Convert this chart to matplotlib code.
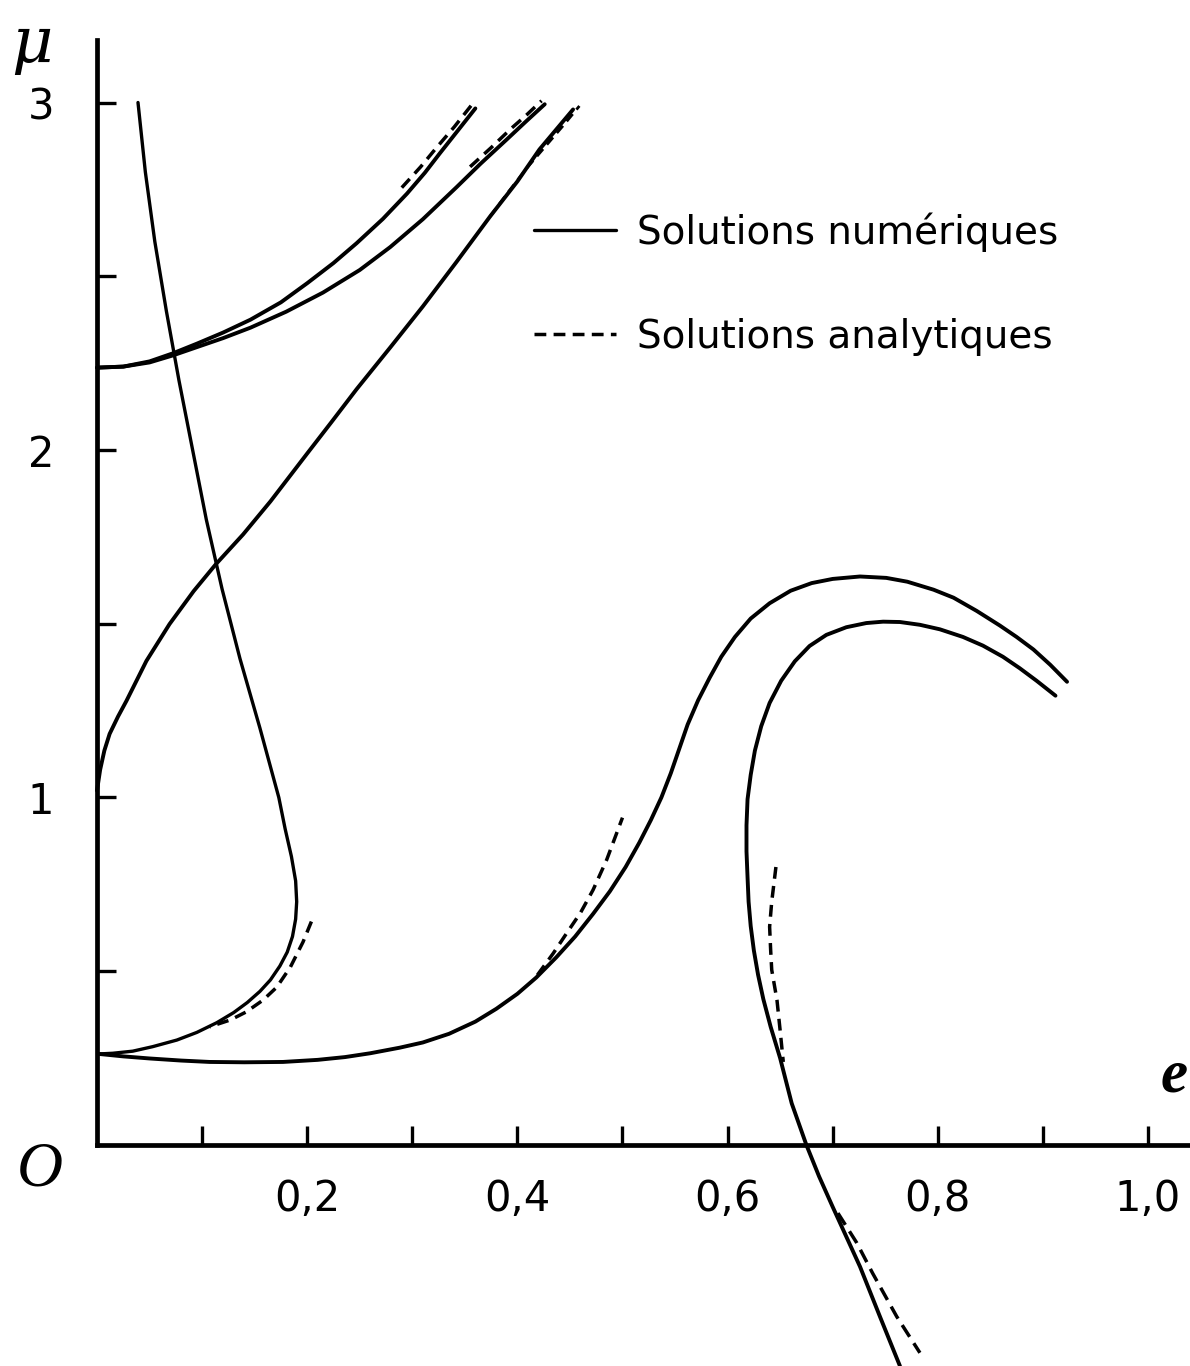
import numpy as np
import matplotlib
matplotlib.use("Agg")
import matplotlib.pyplot as plt

# ******* values, (e, mu) pairs
# steep curve from mu=3, nose near e=0.19, back to the axis at mu~0.26
a_e = [0.039, 0.046, 0.055, 0.066, 0.078, 0.091, 0.104, 0.119, 0.136, 0.155, 0.164,
       0.173, 0.179, 0.185, 0.189, 0.190, 0.189, 0.186, 0.181, 0.174, 0.165, 0.155,
       0.143, 0.130, 0.114, 0.095, 0.076, 0.053, 0.034, 0.015, 0.002]
a_mu = [3.00, 2.80, 2.60, 2.40, 2.20, 2.00, 1.80, 1.60, 1.40, 1.20, 1.10,
        1.00, 0.91, 0.83, 0.76, 0.70, 0.65, 0.60, 0.555, 0.515, 0.475, 0.442,
        0.410, 0.381, 0.352, 0.324, 0.302, 0.283, 0.270, 0.264, 0.262]
a_e_an = [0.204, 0.196, 0.184, 0.171, 0.158, 0.142, 0.127, 0.107]
a_mu_an = [0.643, 0.584, 0.512, 0.454, 0.417, 0.383, 0.360, 0.340]

# two curves leaving the axis at mu~2.24
b1_e = [0.0, 0.025, 0.050, 0.072, 0.095, 0.120, 0.146, 0.175, 0.200, 0.225, 0.247,
        0.272, 0.295, 0.312, 0.326, 0.343, 0.360]
b1_mu = [2.237, 2.240, 2.255, 2.278, 2.306, 2.338, 2.375, 2.425, 2.480, 2.538, 2.595,
         2.665, 2.738, 2.798, 2.853, 2.918, 2.983]
b1_e_an = [0.290, 0.308, 0.323, 0.340, 0.357]
b1_mu_an = [2.755, 2.815, 2.870, 2.930, 2.995]

b2_e = [0.0, 0.025, 0.050, 0.072, 0.095, 0.120, 0.146, 0.180, 0.215, 0.250, 0.279,
        0.310, 0.342, 0.365, 0.390, 0.408, 0.426]
b2_mu = [2.237, 2.240, 2.252, 2.272, 2.296, 2.322, 2.352, 2.398, 2.453, 2.518, 2.584,
         2.664, 2.756, 2.824, 2.894, 2.945, 2.995]
b2_e_an = [0.355, 0.375, 0.394, 0.409, 0.423]
b2_mu_an = [2.815, 2.870, 2.925, 2.965, 3.005]

# curve from (0, 1) rising almost straight
c_e = [0.0, 0.003, 0.007, 0.012, 0.020, 0.028, 0.047, 0.069, 0.092, 0.113, 0.139,
       0.165, 0.200, 0.223, 0.247, 0.279, 0.310, 0.342, 0.374, 0.400, 0.421, 0.453]
c_mu = [1.02, 1.08, 1.135, 1.183, 1.233, 1.278, 1.393, 1.499, 1.594, 1.671, 1.757,
        1.852, 1.990, 2.080, 2.175, 2.295, 2.413, 2.541, 2.672, 2.773, 2.865, 2.980]
c_e_an = [0.374, 0.392, 0.410, 0.427, 0.444, 0.459]
c_mu_an = [2.672, 2.745, 2.815, 2.875, 2.935, 2.990]

# low curve from mu~0.26, S shape, hump at e~0.73
d_e = [0.002, 0.025, 0.050, 0.080, 0.107, 0.140, 0.177, 0.210, 0.236, 0.260, 0.288,
       0.310, 0.335, 0.360, 0.380, 0.400, 0.418, 0.437, 0.455, 0.472, 0.488, 0.503,
       0.516, 0.527, 0.537, 0.546, 0.554, 0.562, 0.572, 0.583, 0.594, 0.607, 0.622,
       0.640, 0.660, 0.680, 0.700, 0.726, 0.751, 0.771, 0.796, 0.815, 0.837, 0.859,
       0.875, 0.891, 0.907, 0.923]
d_mu = [0.262, 0.255, 0.249, 0.243, 0.239, 0.238, 0.239, 0.245, 0.253, 0.264, 0.280,
        0.295, 0.320, 0.355, 0.392, 0.435, 0.482, 0.540, 0.600, 0.665, 0.730, 0.800,
        0.870, 0.935, 1.000, 1.070, 1.140, 1.210, 1.280, 1.345, 1.405, 1.462, 1.515,
        1.559, 1.595, 1.617, 1.629, 1.636, 1.632, 1.621, 1.598, 1.575, 1.537, 1.495,
        1.462, 1.426, 1.382, 1.333]
d_e_an = [0.419, 0.434, 0.447, 0.460, 0.472, 0.485, 0.500]
d_mu_an = [0.489, 0.551, 0.610, 0.668, 0.734, 0.821, 0.942]

# hook curve, lower hump, crossing the e axis near 0.675
e_e = [0.912, 0.894, 0.878, 0.862, 0.843, 0.824, 0.802, 0.783, 0.764, 0.748, 0.732,
       0.713, 0.694, 0.678, 0.664, 0.651, 0.640, 0.632, 0.626, 0.622, 0.619, 0.618,
       0.618, 0.619, 0.620, 0.622, 0.625, 0.629, 0.634, 0.641, 0.650, 0.661, 0.675,
       0.687, 0.700, 0.713, 0.726, 0.745, 0.764]
e_mu = [1.293, 1.336, 1.372, 1.405, 1.437, 1.462, 1.484, 1.497, 1.505, 1.506, 1.502,
        1.490, 1.468, 1.436, 1.392, 1.336, 1.272, 1.205, 1.135, 1.065, 0.995, 0.920,
        0.845, 0.770, 0.700, 0.630, 0.560, 0.490, 0.420, 0.340, 0.250, 0.120, 0.0,
        -0.090, -0.178, -0.264, -0.350, -0.494, -0.636]
e_e_an1 = [0.646, 0.642, 0.640, 0.641, 0.642, 0.647, 0.650, 0.653]
e_mu_an1 = [0.800, 0.700, 0.628, 0.560, 0.504, 0.417, 0.330, 0.239]
e_e_an2 = [0.705, 0.723, 0.738, 0.761, 0.783]
e_mu_an2 = [-0.196, -0.282, -0.369, -0.494, -0.598]

# axis ticks
x_major = [0.2, 0.4, 0.6, 0.8, 1.0]
x_labels = ["0,2", "0,4", "0,6", "0,8", "1,0"]
x_minor = [0.1, 0.3, 0.5, 0.7, 0.9]
y_major = [1, 2, 3]
y_labels = ["1", "2", "3"]
y_minor = [0.5, 1.5, 2.5]

# ******* figure
plt.rcParams["lines.solid_joinstyle"] = "round"
plt.rcParams["lines.solid_capstyle"] = "round"
fig = plt.figure(figsize=(11.9, 13.66), dpi=100)
ax = fig.add_axes([0, 0, 1, 1])
ax.set_xlim(-0.0923, 1.040)
ax.set_ylim(-0.636, 3.295)

lw = 2.8
dash = (3.4, 2.1)
ax.plot(a_e, a_mu, color="k", lw=2.4, label="Solutions numériques")
ax.plot(b1_e, b1_mu, color="k", lw=lw)
ax.plot(b2_e, b2_mu, color="k", lw=lw)
ax.plot(c_e, c_mu, color="k", lw=lw)
ax.plot(d_e, d_mu, color="k", lw=lw)
ax.plot(e_e, e_mu, color="k", lw=lw)

ax.plot(a_e_an, a_mu_an, color="k", lw=2.5, dashes=dash, label="Solutions analytiques")
ax.plot(b1_e_an, b1_mu_an, color="k", lw=2.5, dashes=dash)
ax.plot(b2_e_an, b2_mu_an, color="k", lw=2.5, dashes=dash)
ax.plot(c_e_an, c_mu_an, color="k", lw=2.0, dashes=dash)
ax.plot(d_e_an, d_mu_an, color="k", lw=2.5, dashes=dash)
ax.plot(e_e_an1, e_mu_an1, color="k", lw=2.5, dashes=dash)
ax.plot(e_e_an2, e_mu_an2, color="k", lw=2.5, dashes=(4, 2.2))

# ******* axes through the origin
for side in ["top", "right"]:
    ax.spines[side].set_visible(False)
ax.spines["left"].set_position(("data", 0))
ax.spines["bottom"].set_position(("data", 0))
ax.spines["left"].set_bounds(0, 3.18)
ax.spines["bottom"].set_bounds(0, 1.04)
ax.spines["left"].set_linewidth(3.4)
ax.spines["bottom"].set_linewidth(3.4)

ax.set_xticks(x_major)
ax.set_xticklabels(x_labels)
ax.set_xticks(x_minor, minor=True)
ax.set_yticks(y_major)
ax.set_yticklabels(y_labels)
ax.set_yticks(y_minor, minor=True)
ax.tick_params(axis="both", which="both", direction="in", length=13.5, width=2.4,
               labelsize=30)
ax.tick_params(axis="x", which="major", pad=24)
ax.tick_params(axis="y", which="major", pad=31)

# axis names
ax.text(-0.062, 3.165, "μ", fontsize=46, family="DejaVu Serif", style="italic",
        ha="center", va="center")
ax.text(1.025, 0.196, "e", fontsize=44, family="Liberation Serif", style="italic",
        weight="bold", ha="center", va="center")
ax.text(-0.054, -0.072, "O", fontsize=46, family="Liberation Serif", style="italic",
        ha="center", va="center")

ax.legend(loc="upper left", bbox_to_anchor=(534 / 1190, 1 - 212 / 1366),
          bbox_transform=fig.transFigure, frameon=False, fontsize=28,
          handlelength=2.1, handletextpad=0.55, labelspacing=1.7,
          borderpad=0, borderaxespad=0)

plt.savefig("out.png", dpi=100)
